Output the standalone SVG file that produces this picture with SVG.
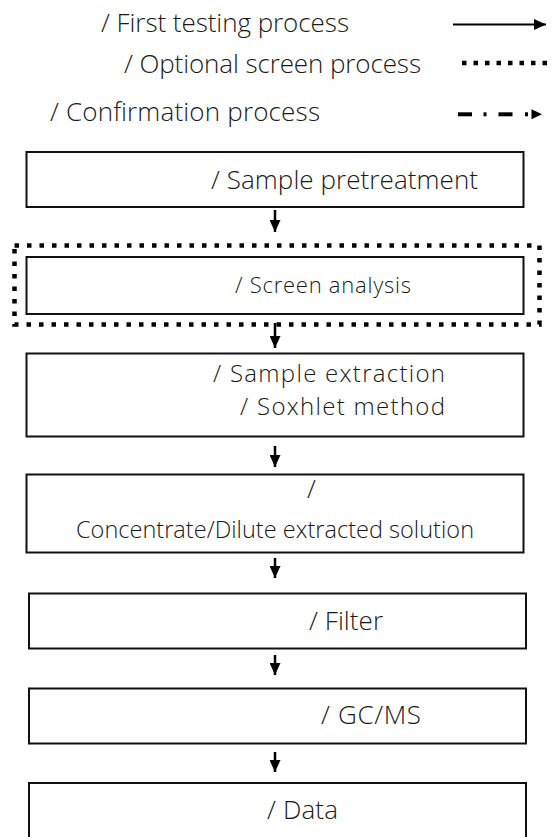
<svg xmlns="http://www.w3.org/2000/svg" width="552" height="837" viewBox="0 0 552 837">
<defs>
<style>
.t{font-family:"Open Sans","Noto Sans CJK TC",sans-serif;font-weight:300;fill:#1a1a1a;font-size:26px}
.s{font-size:22px}
.m{font-size:23.5px}
.x{font-size:24px}
.box{fill:#fff;stroke:#111;stroke-width:2}
.conn{stroke:#000;stroke-width:2.5;fill:none}
</style>
<marker id="ah" markerUnits="userSpaceOnUse" markerWidth="13" markerHeight="11" refX="12" refY="5.5" orient="auto">
<path d="M0,0 L12,5.5 L0,11 Z" fill="#000"/>
</marker>
</defs>
<rect width="552" height="837" fill="#fff"/>

<g id="legend">
<text class="t" x="101" y="32" textLength="248">/ First testing process</text>
<text class="t" x="124" y="73" textLength="297">/ Optional screen process</text>
<text class="t" x="50" y="121" textLength="270">/ Confirmation process</text>
<line x1="453" y1="24.5" x2="546" y2="24.5" stroke="#000" stroke-width="2.2" marker-end="url(#ah)"/>
<line x1="462" y1="63" x2="552" y2="63" stroke="#000" stroke-width="4.5" stroke-dasharray="4.5 7"/>
<g fill="#000">
<rect x="458" y="112.3" width="14" height="4"/>
<rect x="483.5" y="112.3" width="3" height="4"/>
<rect x="498.5" y="112.3" width="14" height="4"/>
<rect x="525" y="112.3" width="3" height="4"/>
<path d="M531.5,109.3 L542,114.3 L531.5,119.3 Z"/>
</g>
</g>

<g id="node-pretreatment">
<rect class="box" x="26.5" y="152" width="497" height="55"/>
<text class="t" x="211" y="189" textLength="267">/ Sample pretreatment</text>
</g>

<g id="node-screen">
<rect x="14.5" y="245.5" width="525" height="79" fill="none" stroke="#000" stroke-width="4.5" stroke-dasharray="4.5 8"/>
<rect class="box" x="26.5" y="257" width="497" height="57"/>
<text class="t s" x="235" y="293" textLength="176">/ Screen analysis</text>
</g>

<g id="node-extraction">
<rect class="box" x="26.5" y="353.5" width="497" height="83"/>
<text class="t x" x="213" y="382" textLength="232">/ Sample extraction</text>
<text class="t x" x="240" y="415" textLength="205">/ Soxhlet method</text>
</g>

<g id="node-concentrate">
<rect class="box" x="26.5" y="474.5" width="497" height="78"/>
<text class="t" x="307" y="498">/</text>
<text class="t m" x="76" y="538" textLength="398">Concentrate/Dilute extracted solution</text>
</g>

<g id="node-filter">
<rect class="box" x="29" y="593.5" width="497" height="55"/>
<text class="t" x="309" y="630" textLength="74">/ Filter</text>
</g>

<g id="node-gcms">
<rect class="box" x="29" y="688.5" width="497" height="55"/>
<text class="t" x="321" y="724" textLength="100">/ GC/MS</text>
</g>

<g id="node-data">
<rect class="box" x="29" y="783" width="497" height="70"/>
<text class="t" x="267" y="819" textLength="71">/ Data</text>
</g>

<g id="connectors">
<line class="conn" x1="275" y1="210" x2="275" y2="232" marker-end="url(#ah)"/>
<line class="conn" x1="275" y1="323" x2="275" y2="348" marker-end="url(#ah)"/>
<line class="conn" x1="275" y1="446" x2="275" y2="467" marker-end="url(#ah)"/>
<line class="conn" x1="275" y1="558" x2="275" y2="578" marker-end="url(#ah)"/>
<line class="conn" x1="275" y1="655" x2="275" y2="675" marker-end="url(#ah)"/>
<line class="conn" x1="275" y1="752" x2="275" y2="772" marker-end="url(#ah)"/>
</g>
</svg>
